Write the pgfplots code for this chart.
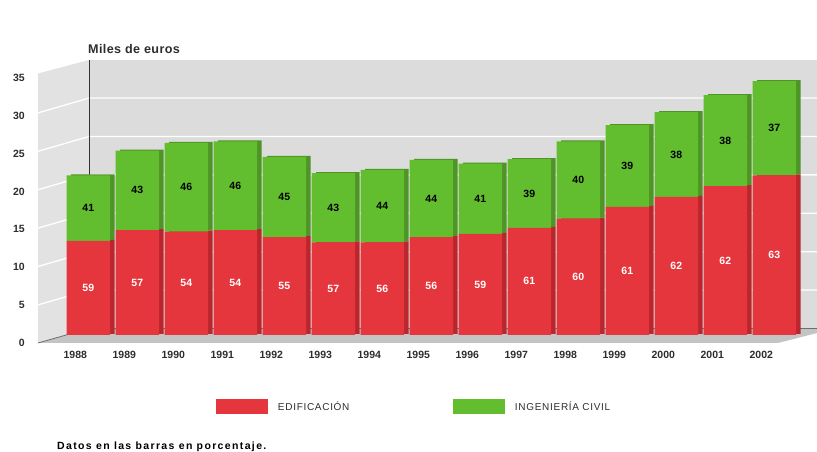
\documentclass[border=0pt]{standalone}
\usepackage{pgfplots}
\pgfplotsset{compat=1.18}
\usepackage{pgfplotstable}
\usepackage{fontspec}
\setmainfont{Liberation Sans}

\definecolor{edred}{RGB}{230,54,61}
\definecolor{edreddark}{RGB}{186,38,44}
\definecolor{ingreen}{RGB}{98,189,47}
\definecolor{ingreendark}{RGB}{78,148,38}
\definecolor{backwall}{RGB}{220,220,220}
\definecolor{sidewall}{RGB}{226,226,226}
\definecolor{floorgray}{RGB}{196,196,196}
\definecolor{edgegray}{RGB}{110,110,110}
\definecolor{txtgray}{RGB}{45,45,45}

% Obra licitada (miles de euros) y reparto en porcentaje
\pgfplotstableread{
i  anio edif ing  pe pi
0  1988 12.2 8.5  59 41
1  1989 13.6 10.3 57 43
2  1990 13.4 11.5 54 46
3  1991 13.6 11.5 54 46
4  1992 12.7 10.4 55 45
5  1993 12.0 9.0  57 43
6  1994 12.0 9.4  56 44
7  1995 12.7 10.0 56 44
8  1996 13.1 9.1  59 41
9  1997 13.9 8.9  61 39
10 1998 15.1 10.0 60 40
11 1999 16.6 10.6 61 39
12 2000 17.9 11.0 62 38
13 2001 19.3 11.8 62 38
14 2002 20.7 12.2 63 37
}\datos

\pgfplotsset{
  barframe/.style={
    x=49pt, y=7.714pt,
    xmin=-1.0265, xmax=14.871,
    ymin=-1.037, ymax=35.65,
    anchor=south west,
    enlargelimits=false,
    clip=false,
    ybar stacked,
    bar width=43.5pt,
    /pgf/number format/assume math mode=true,
  },
}

\newcommand\numfont{\fontsize{10.5}{12}\selectfont\bfseries}

\begin{document}
\begin{tikzpicture}[x=1pt,y=1pt]
\useasboundingbox (0,0) rectangle (817,452);

% paredes y suelo del grafico
\fill[sidewall] (38,109) -- (38,378.5) -- (89,392) -- (89,123.5) -- cycle;
\fill[backwall] (89,123.5) rectangle (817,392);
\fill[floorgray] (38,109) -- (778,109) -- (817,119) -- (817,123.5) -- (89,123.5) -- cycle;
\foreach \k in {1,...,6} {
  \draw[white, line width=1.3pt] (38,{108.7+38.4*\k}) -- (89,{123.5+38.4*\k}) -- (817,{123.5+38.4*\k});
}
\draw[edgegray, line width=0.8pt] (38,109) -- (89,123.5) -- (817,123.5);
\draw[black!80, line width=0.8pt] (89,123.5) -- (89,392);

% caras laterales de las barras
\begin{axis}[barframe, at={(42.5pt,110pt)}, hide axis]
  \addplot[fill=edreddark, draw=none] table[x=i, y=edif] {\datos};
  \addplot[fill=ingreendark, draw=none] table[x=i, y=ing] {\datos};
\end{axis}

% caras frontales, porcentajes y leyenda
\begin{axis}[barframe, at={(38pt,109pt)},
  axis line style={draw=none}, tick style={draw=none},
  ytick=\empty,
  xtick={0,...,14},
  xticklabels from table={\datos}{anio},
  xticklabel style={anchor=center, yshift=-12pt, xshift=-13pt,
    font=\numfont, text=txtgray},
  point meta=explicit,
  nodes near coords,
  every node near coord/.append style={font=\numfont, anchor=center},
  legend columns=2,
  legend cell align=left,
  legend image code/.code={\fill[#1, draw=none] (0pt,-7.5pt) rectangle (52pt,7.5pt);},
  legend style={at={(0.2285,-0.2261)}, anchor=west, draw=none, fill=none,
    inner sep=0pt, outer sep=0pt,
    nodes={inner sep=0pt, text width=175pt, align=left, text=txtgray,
      font=\fontsize{10}{12}\selectfont\addfontfeatures{LetterSpace=7}},
    /tikz/every odd column/.append style={column sep=10pt}},
]
  \addplot[fill=edred, draw=none,
    every node near coord/.append style={text=white}]
    table[x=i, y=edif, meta=pe] {\datos};
  \addplot[fill=ingreen, draw=none,
    every node near coord/.append style={text=black}]
    table[x=i, y=ing, meta=pi] {\datos};
  \legend{EDIFICACIÓN, INGENIERÍA CIVIL}
\end{axis}

% escala del plano frontal
\begin{axis}[at={(38pt,109pt)}, anchor=south west,
  x=10pt, y=7.58pt, xmin=0, xmax=1, ymin=0, ymax=35,
  axis line style={draw=none}, tick style={draw=none},
  xtick=\empty, ytick={0,5,...,35},
  yticklabel style={anchor=east, inner sep=0pt, xshift=-13pt, font=\numfont, text=txtgray},
  /pgf/number format/assume math mode=true]
\end{axis}

\node[anchor=west, inner sep=0pt, text=txtgray,
  font=\fontsize{12.6}{14}\selectfont\bfseries\addfontfeatures{LetterSpace=3}]
  at (88,402.5) {Miles de euros};
\node[anchor=base west, inner sep=0pt, text=black,
  font=\fontsize{10.5}{12}\selectfont\bfseries\addfontfeatures{LetterSpace=13}]
  at (57,2) {Datos en las barras en porcentaje.};
\end{tikzpicture}
\end{document}
